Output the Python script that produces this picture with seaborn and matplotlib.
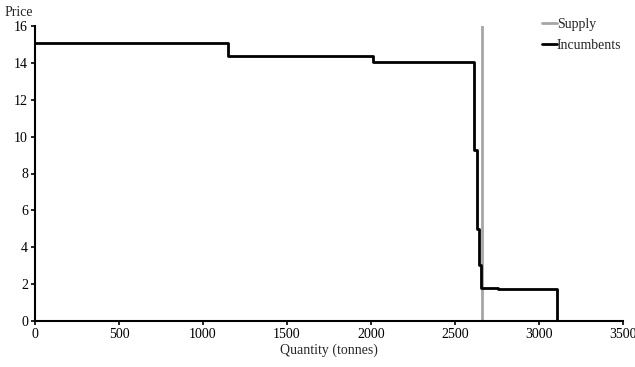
import matplotlib
matplotlib.use("Agg")
import matplotlib.pyplot as plt
import seaborn as sns
import pandas as pd

# Data
inc_qty = [0, 1150, 2010, 2613, 2629, 2645, 2655, 2755, 3110]
inc_price = [15.1, 14.4, 14.05, 9.3, 5.0, 3.05, 1.78, 1.72, 0]
supply_qty = [2660, 2660]
supply_price = [0, 16]
x_ticks = [0, 500, 1000, 1500, 2000, 2500, 3000, 3500]
y_ticks = [0, 2, 4, 6, 8, 10, 12, 14, 16]

sns.set_style("ticks")
plt.rcParams['font.family'] = ['Liberation Serif', 'DejaVu Serif']
plt.rcParams['font.size'] = 10

fig = plt.figure(figsize=(6.35, 3.67), dpi=100)
ax = fig.add_axes([35/635, 1-321/367, (623-35)/635, (321-26)/367])

df_inc = pd.DataFrame({"q": inc_qty, "p": inc_price})
df_sup = pd.DataFrame({"q": supply_qty, "p": supply_price})

sns.lineplot(data=df_sup, x="q", y="p", ax=ax, color="#a6a6a6", lw=2,
             sort=False, estimator=None, label="Supply")
sns.lineplot(data=df_inc, x="q", y="p", ax=ax, color="black", lw=2,
             sort=False, estimator=None, drawstyle="steps-post", label="Incumbents")

ax.set_xlim(0, 3500)
ax.set_ylim(0, 16)
ax.set_xticks(x_ticks)
ax.set_yticks(y_ticks)
ax.spines['top'].set_visible(False)
ax.spines['right'].set_visible(False)
for s in ['left', 'bottom']:
    ax.spines[s].set_linewidth(1.5)
    ax.spines[s].set_color('black')
ax.tick_params(axis='both', direction='out', length=3, width=1.2, colors='black',
               labelsize=10, pad=2)
ax.set_xlabel("Quantity (tonnes)", fontsize=10, labelpad=2)
ax.set_ylabel("")
fig.text(5/635, 1-13/367, "Price", fontsize=10, va='center', ha='left')

leg = ax.legend(loc='upper left', bbox_to_anchor=(536/635, 1-12/367),
                bbox_transform=fig.transFigure, frameon=False,
                handlelength=1.1, handletextpad=0.0, labelspacing=0.6,
                borderaxespad=0, fontsize=10)

fig.savefig("out.png", dpi=100)
